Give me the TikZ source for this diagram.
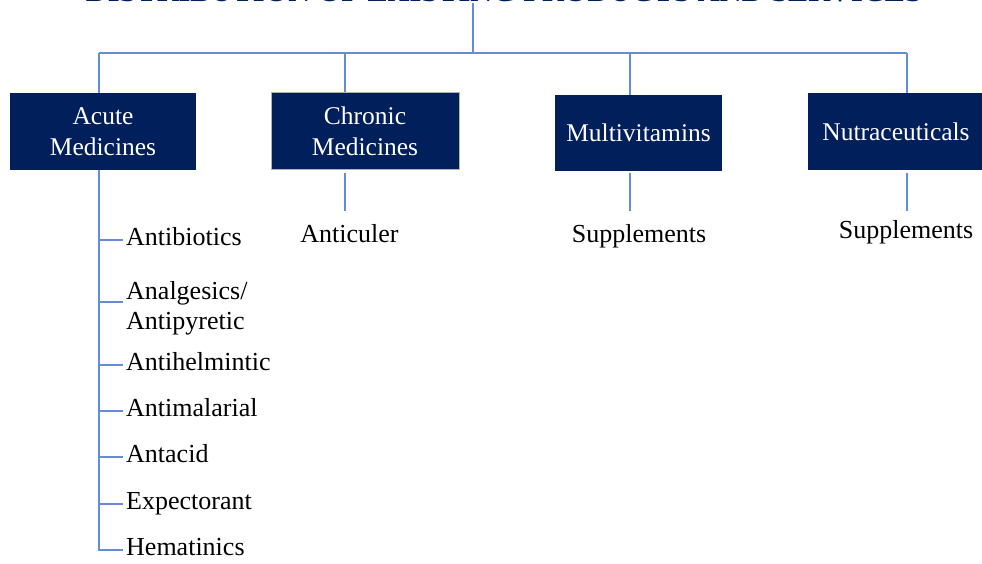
\documentclass[tikz,border=0pt]{standalone}
\usepackage{fontspec}
\setmainfont{Liberation Serif}
\usepackage{graphicx}
\definecolor{navy}{RGB}{0,31,91}
\definecolor{linkblue}{RGB}{100,140,215}
\begin{document}
\begin{tikzpicture}[x=1pt,y=-1pt,
  link/.style={draw=linkblue, line width=1.3pt},
  catbox/.style={fill=navy, text=white, align=center, font=\fontsize{25.5}{31}\selectfont, inner sep=0pt},
  item/.style={anchor=west, inner xsep=3pt, inner ysep=0pt, text height=1.1em, text depth=0pt, font=\fontsize{26}{30}\selectfont},
  leaf/.style={anchor=base, inner sep=0pt, font=\fontsize{26}{30}\selectfont}]
\useasboundingbox (0,0) rectangle (982,564);

\node[anchor=base, inner sep=0pt, text=navy, font=\bfseries] (title) at (504,2)
  {\resizebox{836pt}{!}{DISTRIBUTION OF EXISTING PRODUCTS AND SERVICES}};

\node[catbox, minimum width=186pt, minimum height=77pt] (acute) at (103,131.5) {Acute\\Medicines};
\node[catbox, draw=gray!60, line width=1pt, minimum width=188pt, minimum height=77pt] (chronic) at (365,131.5) {Chronic\\Medicines};
\node[catbox, minimum width=167pt, minimum height=76pt] (multi) at (638.5,133) {Multivitamins};
\node[catbox, minimum width=176pt, minimum height=77pt] (nutra) at (896,131.5) {Nutraceuticals};

\coordinate (hub) at (473,53);
\coordinate (bA) at (99,53);
\coordinate (bB) at (345,53);
\coordinate (bC) at (630,53);
\coordinate (bD) at (907,53);

\node[item] (i1) at (123,240) {Antibiotics};
\node[anchor=west, inner xsep=3pt, inner ysep=0pt, align=left, font=\fontsize{26}{30}\selectfont] (i2) at (123,308) {Analgesics/\\Antipyretic};
\node[item] (i3) at (123,365) {Antihelmintic};
\node[item] (i4) at (123,411) {Antimalarial};
\node[item] (i5) at (123,457) {Antacid};
\node[item] (i6) at (123,504) {Expectorant};
\node[item] (i7) at (123,550) {Hematinics};

\node[leaf] (l1) at (349.5,242) {Anticuler};
\node[leaf] (l2) at (639,242) {Supplements};
\node[leaf] (l3) at (906,238) {Supplements};

\draw[link] (hub |- title.south) -- (hub);
\draw[link] (bA) -- (bD);
\draw[link] (bA) -- (bA |- acute.north);
\draw[link] (bB) -- (bB |- chronic.north);
\draw[link] (bC) -- (bC |- multi.north);
\draw[link] (bD) -- (bD |- nutra.north);

\draw[link] (bA |- acute.south) -- (bA |- i7.west) -- (i7.west);
\foreach \n in {i1,i3,i4,i5,i6} \draw[link] (bA |- \n.west) -- (\n.west);
\draw[link] ([yshift=6pt]bA |- i2.west) -- ([yshift=6pt]i2.west);

\draw[link, shorten >=13pt] ([yshift=-3pt]bB |- chronic.south) -- (bB |- l1.north);
\draw[link, shorten >=13pt] ([yshift=-2pt]bC |- multi.south) -- (bC |- l2.north);
\draw[link, shorten >=9pt] ([yshift=-3pt]bD |- nutra.south) -- (bD |- l3.north);
\end{tikzpicture}
\end{document}
